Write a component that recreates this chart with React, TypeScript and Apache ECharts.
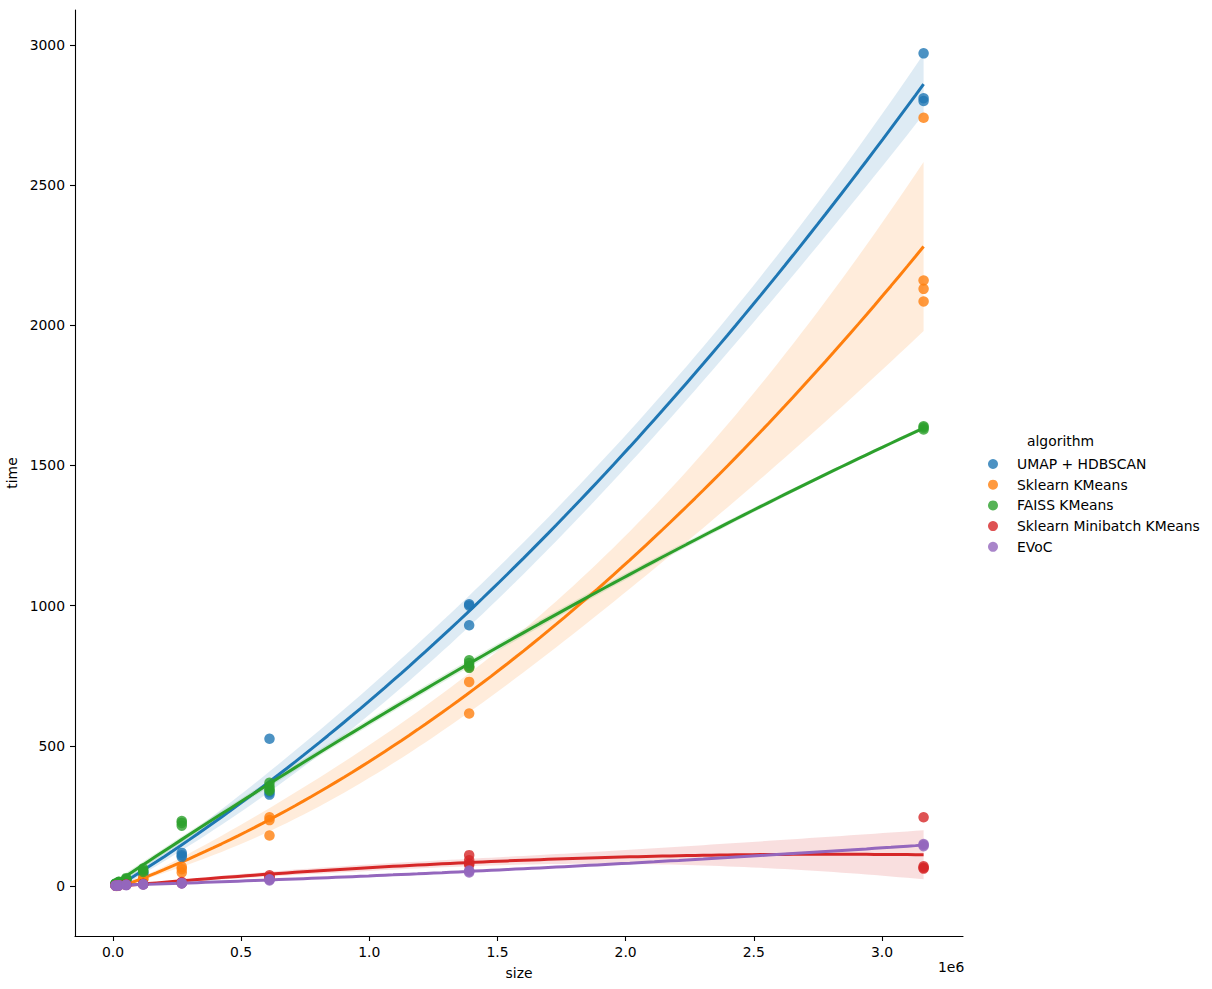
import React, { useEffect, useRef } from "react";
import * as echarts from "echarts";

const algorithms = ["UMAP + HDBSCAN", "Sklearn KMeans", "FAISS KMeans", "Sklearn Minibatch KMeans", "EVoC"];
const colors = ["#1f77b4", "#ff7f0e", "#2ca02c", "#d62728", "#9467bd"];
const sizes = [10000, 22758, 51795, 117877, 268270, 610540, 1389495, 3162278];

const umapTimes = [[4, 6, 8], [9, 11, 13], [18, 21, 24], [42, 46, 50], [118, 110, 104], [525, 334, 326], [1005, 1000, 930], [2970, 2810, 2800]];
const kmeansTimes = [[2, 3, 4], [5, 6, 7], [10, 12, 14], [22, 25, 28], [68, 60, 48], [245, 235, 180], [780, 728, 615], [2740, 2160, 2130, 2085]];
const faissTimes = [[7, 8, 9], [12, 14, 15], [22, 25, 28], [62, 55, 50], [232, 225, 215], [368, 355, 345, 340], [805, 795, 785, 778], [1640, 1635, 1628]];
const minibatchTimes = [[1, 2, 2], [2, 3, 3], [4, 5, 5], [6, 7, 8], [10, 12, 14], [38, 32, 30], [110, 92, 80, 75], [245, 70, 65, 62]];
const evocTimes = [[1, 1, 2], [2, 2, 3], [3, 4, 4], [5, 6, 6], [9, 10, 11], [24, 22, 20], [55, 52, 48], [150, 146, 142]];

const timesByAlgorithm = [umapTimes, kmeansTimes, faissTimes, minibatchTimes, evocTimes];

const xTicks = [0, 500000, 1000000, 1500000, 2000000, 2500000, 3000000];
const yTicks = [0, 500, 1000, 1500, 2000, 2500, 3000];

function inv3(m: number[][]): number[][] {
  const [a, b, c] = m[0];
  const [d, e, f] = m[1];
  const [g, h, i] = m[2];
  const A = e * i - f * h, B = -(d * i - f * g), C = d * h - e * g;
  const det = a * A + b * B + c * C;
  return [
    [A / det, -(b * i - c * h) / det, (b * f - c * e) / det],
    [B / det, (a * i - c * g) / det, -(a * f - c * d) / det],
    [C / det, -(a * h - b * g) / det, (a * e - b * d) / det],
  ];
}

function mul3(a: number[][], b: number[][]): number[][] {
  const r = [[0, 0, 0], [0, 0, 0], [0, 0, 0]];
  for (let i = 0; i < 3; i++) for (let j = 0; j < 3; j++) for (let k = 0; k < 3; k++) r[i][j] += a[i][k] * b[k][j];
  return r;
}

// Quadratic least-squares fit with a heteroscedasticity-consistent 95% band
function fit(points: number[][]) {
  const rows = points.map(([x]) => { const t = x / 1e6; return [1, t, t * t]; });
  const ys = points.map((p) => p[1]);
  const XtX = [[0, 0, 0], [0, 0, 0], [0, 0, 0]];
  const Xty = [0, 0, 0];
  rows.forEach((r, n) => {
    for (let i = 0; i < 3; i++) {
      Xty[i] += r[i] * ys[n];
      for (let j = 0; j < 3; j++) XtX[i][j] += r[i] * r[j];
    }
  });
  const inv = inv3(XtX);
  const beta = [0, 1, 2].map((i) => inv[i][0] * Xty[0] + inv[i][1] * Xty[1] + inv[i][2] * Xty[2]);
  const meat = [[0, 0, 0], [0, 0, 0], [0, 0, 0]];
  rows.forEach((r, n) => {
    const pred = beta[0] * r[0] + beta[1] * r[1] + beta[2] * r[2];
    const e = ys[n] - pred;
    let h = 0;
    for (let i = 0; i < 3; i++) for (let j = 0; j < 3; j++) h += r[i] * inv[i][j] * r[j];
    const w = (e * e) / Math.max(1 - h, 0.05);
    for (let i = 0; i < 3; i++) for (let j = 0; j < 3; j++) meat[i][j] += w * r[i] * r[j];
  });
  const V = mul3(mul3(inv, meat), inv);
  const xs = points.map((p) => p[0]);
  const lo = Math.min(...xs), hi = Math.max(...xs);
  const grid: { x: number; y: number; lo: number; hi: number }[] = [];
  for (let k = 0; k < 100; k++) {
    const x = lo + ((hi - lo) * k) / 99;
    const t = x / 1e6;
    const r = [1, t, t * t];
    const y = beta[0] + beta[1] * t + beta[2] * t * t;
    let v = 0;
    for (let i = 0; i < 3; i++) for (let j = 0; j < 3; j++) v += r[i] * V[i][j] * r[j];
    const se = Math.sqrt(Math.max(v, 0));
    grid.push({ x, y, lo: y - 1.96 * se, hi: y + 1.96 * se });
  }
  return grid;
}

function rgba(hex: string, a: number) {
  const n = parseInt(hex.slice(1), 16);
  return `rgba(${(n >> 16) & 255},${(n >> 8) & 255},${n & 255},${a})`;
}

const FONT = "DejaVu Sans";

export default function App() {
  const ref = useRef<HTMLDivElement>(null);
  useEffect(() => {
    if (!ref.current) return;
    const chart = echarts.init(ref.current, undefined, { renderer: "svg" });
    const series: any[] = [];
    algorithms.forEach((name, a) => {
      const pts: number[][] = [];
      timesByAlgorithm[a].forEach((ts, s) => ts.forEach((t) => pts.push([sizes[s], t])));
      const grid = fit(pts);
      const color = colors[a];
      series.push({
        type: "scatter",
        name,
        data: pts,
        symbolSize: 10.5,
        itemStyle: { color, opacity: 0.8 },
        z: 2,
      });
      series.push({
        type: "custom",
        name: name + " ci",
        data: [[grid[0].x, grid[0].y]],
        silent: true,
        z: 2,
        renderItem: (_params: any, api: any) => {
          const poly: number[][] = [];
          grid.forEach((g) => poly.push(api.coord([g.x, g.hi])));
          for (let k = grid.length - 1; k >= 0; k--) poly.push(api.coord([grid[k].x, grid[k].lo]));
          return { type: "polygon", shape: { points: poly }, style: { fill: rgba(color, 0.15) }, silent: true };
        },
      });
      series.push({
        type: "line",
        name: name + " fit",
        data: grid.map((g) => [g.x, g.y]),
        showSymbol: false,
        symbol: "none",
        lineStyle: { color, width: 3 },
        itemStyle: { color },
        silent: true,
        z: 2,
      });
    });

    chart.setOption({
      animation: false,
      grid: { left: 75, right: 249, top: 10, bottom: 53, containLabel: false, outerBoundsMode: "none" },
      legend: {
        data: algorithms.map((n) => ({ name: n, icon: "circle" })),
        orient: "vertical",
        left: 983,
        top: 452,
        itemWidth: 10,
        itemHeight: 10,
        itemGap: 6.7,
        textStyle: { fontFamily: FONT, fontSize: 13.9, color: "#000", padding: [0, 0, 0, 14] },
        selectedMode: false,
      },
      xAxis: {
        type: "value",
        min: -148200,
        max: 3316000,
        name: "size",
        nameLocation: "middle",
        nameGap: 30,
        nameTextStyle: { fontFamily: FONT, fontSize: 13.9, color: "#000" },
        axisLine: { show: true, onZero: false, lineStyle: { color: "#000", width: 1.1 } },
        axisTick: { show: true, customValues: xTicks, length: 5, lineStyle: { color: "#000", width: 1.1 } },
        axisLabel: {
          customValues: xTicks,
          formatter: (v: number) => (v / 1e6).toFixed(1),
          fontFamily: FONT,
          fontSize: 13.9,
          color: "#000",
          margin: 9,
        },
        splitLine: { show: false },
      },
      yAxis: {
        type: "value",
        min: -178.4,
        max: 3124.6,
        name: "time",
        nameLocation: "middle",
        nameGap: 48,
        nameRotate: 90,
        nameTextStyle: { fontFamily: FONT, fontSize: 13.9, color: "#000" },
        axisLine: { show: true, onZero: false, lineStyle: { color: "#000", width: 1.1 } },
        axisTick: { show: true, customValues: yTicks, length: 5, lineStyle: { color: "#000", width: 1.1 } },
        axisLabel: {
          customValues: yTicks,
          formatter: (v: number) => String(v),
          fontFamily: FONT,
          fontSize: 13.9,
          color: "#000",
          margin: 10,
        },
        splitLine: { show: false },
      },
      graphic: [
        {
          type: "text",
          left: 1027,
          top: 434,
          style: { text: "algorithm", font: `13.9px '${FONT}'`, fill: "#000" },
        },
        {
          type: "text",
          left: 938,
          top: 960,
          style: { text: "1e6", font: `13.9px '${FONT}'`, fill: "#000" },
        },
      ],
      series,
    });
    return () => chart.dispose();
  }, []);
  return <div ref={ref} style={{ position: "absolute", left: 0, top: 0, width: 1212, height: 989 }} />;
}
